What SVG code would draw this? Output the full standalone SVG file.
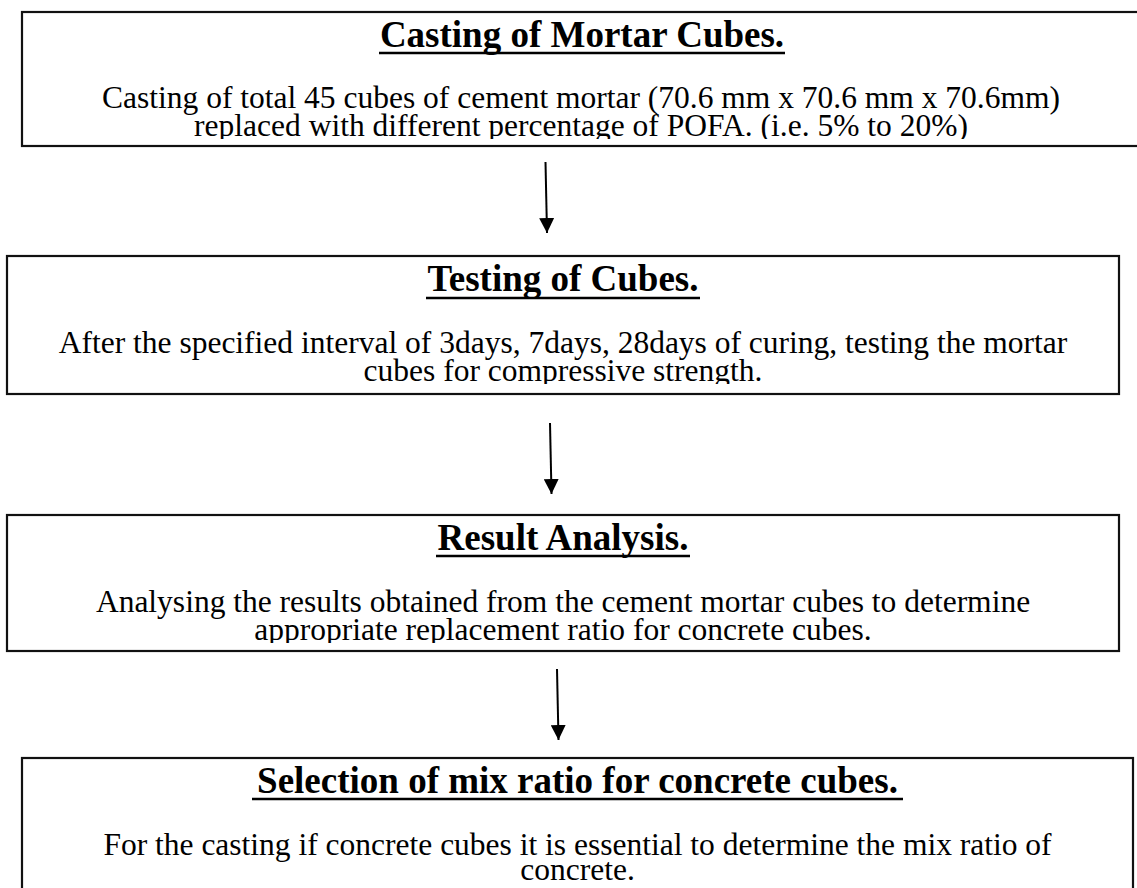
<svg xmlns="http://www.w3.org/2000/svg" width="1137" height="888" viewBox="0 0 1137 888">
<style>
.box{fill:#fff;stroke:#111;stroke-width:2.2}
.title{font-family:"Liberation Serif","Times New Roman",serif;font-weight:bold;font-size:37px;fill:#000;text-anchor:middle}
.body{font-family:"Liberation Serif","Times New Roman",serif;font-size:31.5px;fill:#000;text-anchor:middle}
.ul{stroke:#000;stroke-width:2.7}
.conn{stroke:#000;stroke-width:2;fill:none;marker-end:url(#ah)}
</style>
<defs>
<marker id="ah" markerUnits="userSpaceOnUse" markerWidth="15" markerHeight="15" refX="15" refY="7.5" orient="auto">
<path d="M0,0 L15,7.5 L0,15 z" fill="#000"/>
</marker>
<clipPath id="c1"><rect x="0" y="60" width="1137" height="79"/></clipPath>
<clipPath id="c2"><rect x="0" y="305" width="1137" height="79"/></clipPath>
<clipPath id="c3"><rect x="0" y="564" width="1137" height="79"/></clipPath>
</defs>
<rect width="1137" height="888" fill="#fff"/>

<g id="node-casting">
<rect class="box" x="22" y="12" width="1125" height="134"/>
<text class="title" x="582" y="47">Casting of Mortar Cubes.</text>
<line class="ul" x1="379" y1="53" x2="785" y2="53"/>
<g clip-path="url(#c1)">
<text class="body" x="581" y="108">Casting of total 45 cubes of cement mortar (70.6 mm x 70.6 mm x 70.6mm)</text>
<text class="body" x="581" y="136">replaced with different percentage of POFA. (i.e. 5% to 20%)</text>
</g>
</g>

<g id="node-testing">
<rect class="box" x="7" y="256" width="1112" height="138"/>
<text class="title" x="563" y="291">Testing of Cubes.</text>
<line class="ul" x1="426" y1="298" x2="700" y2="298"/>
<g clip-path="url(#c2)">
<text class="body" x="563" y="353">After the specified interval of 3days, 7days, 28days of curing, testing the mortar</text>
<text class="body" x="563" y="381">cubes for compressive strength.</text>
</g>
</g>

<g id="node-result">
<rect class="box" x="7" y="515" width="1112" height="136"/>
<text class="title" x="563" y="550">Result Analysis.</text>
<line class="ul" x1="436" y1="556" x2="690" y2="556"/>
<g clip-path="url(#c3)">
<text class="body" x="563" y="612">Analysing the results obtained from the cement mortar cubes to determine</text>
<text class="body" x="563" y="640">appropriate replacement ratio for concrete cubes.</text>
</g>
</g>

<g id="node-selection">
<rect class="box" x="22" y="758" width="1111" height="150"/>
<text class="title" x="577.5" y="793">Selection of mix ratio for concrete cubes.</text>
<line class="ul" x1="252" y1="799" x2="903" y2="799"/>
<text class="body" x="577.5" y="855">For the casting if concrete cubes it is essential to determine the mix ratio of</text>
<text class="body" x="577.5" y="880">concrete.</text>
</g>

<g id="connectors">
<line class="conn" x1="545.5" y1="162" x2="547" y2="233"/>
<line class="conn" x1="550" y1="423" x2="551.5" y2="494"/>
<line class="conn" x1="557" y1="669" x2="558.5" y2="740"/>
</g>
</svg>
